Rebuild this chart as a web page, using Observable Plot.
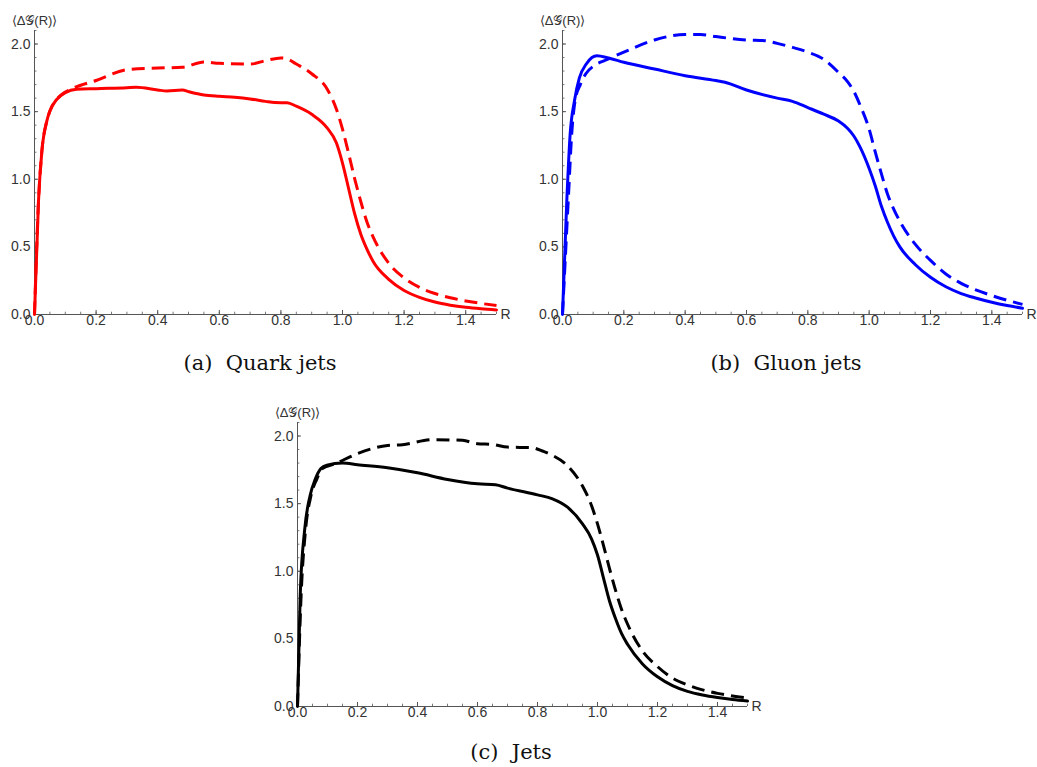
<!DOCTYPE html>
<html><head><meta charset="utf-8">
<script src="https://cdn.jsdelivr.net/npm/d3@7"></script>
<script src="https://cdn.jsdelivr.net/npm/@observablehq/plot@0.6"></script>
<style>
body{margin:0;background:#fff;}
#root{position:relative;width:1037px;height:767px;overflow:hidden;background:#fff;}
.panel{position:absolute;}
.cap{position:absolute;font-family:"DejaVu Serif","Liberation Serif",serif;font-size:21px;color:#111;white-space:pre;transform:translate(-50%,-50%);}
</style></head>
<body><div id="root"></div>
<script>
// ---- data ----
const xTicks = [0, 0.2, 0.4, 0.6, 0.8, 1.0, 1.2, 1.4];
const yTicks = [0, 0.5, 1.0, 1.5, 2.0];
const xMinor = d3.range(0, 31).map(i => i * 0.05);
const yMinor = d3.range(0, 22).map(i => i * 0.1);
const yLabel = "\u27E8\u0394\uD835\uDCA2(R)\u27E9";
const xLabel = "R";
const captions = ["(a)  Quark jets", "(b)  Gluon jets", "(c)  Jets"];

const quarkSolid = [[0,0],[0.013,0.84],[0.024,1.21],[0.04,1.43],[0.051,1.51],[0.072,1.59],[0.1,1.64],[0.137,1.665],[0.2,1.67],[0.3,1.677],[0.33,1.68],[0.4,1.66],[0.43,1.653],[0.48,1.66],[0.5,1.648],[0.55,1.623],[0.6,1.613],[0.65,1.606],[0.7,1.594],[0.75,1.576],[0.78,1.567],[0.82,1.566],[0.85,1.54],[0.9,1.48],[0.95,1.38],[0.98,1.27],[1.0,1.12],[1.02,0.93],[1.04,0.74],[1.06,0.59],[1.08,0.48],[1.1,0.39],[1.15,0.26],[1.2,0.178],[1.25,0.127],[1.3,0.092],[1.35,0.069],[1.4,0.053],[1.45,0.042],[1.5,0.034]];
const quarkDashed = [[0,0],[0.013,0.84],[0.024,1.21],[0.04,1.43],[0.051,1.51],[0.072,1.59],[0.1,1.645],[0.127,1.675],[0.2,1.73],[0.3,1.81],[0.4,1.823],[0.48,1.828],[0.55,1.867],[0.6,1.857],[0.7,1.852],[0.75,1.877],[0.8,1.897],[0.82,1.89],[0.85,1.852],[0.9,1.78],[0.95,1.667],[0.98,1.52],[1.0,1.37],[1.02,1.19],[1.04,1.0],[1.06,0.83],[1.08,0.68],[1.1,0.57],[1.15,0.38],[1.2,0.27],[1.25,0.2],[1.3,0.155],[1.35,0.124],[1.4,0.1],[1.45,0.082],[1.5,0.066]];
const gluonSolid = [[0,0],[0.014,0.84],[0.025,1.335],[0.039,1.58],[0.055,1.75],[0.077,1.85],[0.096,1.90],[0.112,1.914],[0.15,1.897],[0.2,1.865],[0.3,1.815],[0.4,1.766],[0.5,1.73],[0.53,1.717],[0.6,1.66],[0.7,1.6],[0.75,1.576],[0.8,1.53],[0.85,1.483],[0.9,1.43],[0.93,1.375],[0.95,1.32],[0.97,1.24],[1.0,1.08],[1.02,0.95],[1.04,0.8],[1.06,0.68],[1.08,0.58],[1.1,0.5],[1.15,0.37],[1.2,0.275],[1.25,0.205],[1.3,0.155],[1.35,0.12],[1.4,0.09],[1.45,0.066],[1.5,0.047]];
const gluonDashed = [[0,0],[0.02,0.9],[0.03,1.335],[0.041,1.58],[0.058,1.70],[0.076,1.78],[0.103,1.84],[0.14,1.88],[0.2,1.94],[0.3,2.03],[0.4,2.07],[0.45,2.07],[0.5,2.055],[0.6,2.03],[0.66,2.025],[0.7,2.005],[0.75,1.975],[0.8,1.94],[0.85,1.89],[0.9,1.79],[0.93,1.72],[0.95,1.65],[0.97,1.55],[1.0,1.37],[1.02,1.2],[1.04,1.04],[1.06,0.89],[1.08,0.78],[1.1,0.69],[1.15,0.52],[1.2,0.4],[1.25,0.3],[1.3,0.23],[1.35,0.18],[1.4,0.14],[1.45,0.105],[1.5,0.075]];
const jetSolid = [[0,0],[0.009,0.82],[0.024,1.31],[0.042,1.56],[0.059,1.68],[0.078,1.76],[0.098,1.785],[0.15,1.80],[0.2,1.788],[0.3,1.765],[0.4,1.728],[0.5,1.679],[0.6,1.647],[0.66,1.64],[0.7,1.615],[0.8,1.565],[0.85,1.536],[0.9,1.474],[0.95,1.35],[0.98,1.24],[1.0,1.12],[1.02,0.95],[1.04,0.78],[1.06,0.65],[1.08,0.54],[1.1,0.46],[1.15,0.315],[1.2,0.22],[1.25,0.155],[1.3,0.112],[1.35,0.085],[1.4,0.066],[1.45,0.051],[1.5,0.04]];
const jetDashed = [[0,0],[0.012,0.82],[0.027,1.31],[0.045,1.56],[0.064,1.68],[0.083,1.76],[0.12,1.79],[0.2,1.87],[0.3,1.93],[0.35,1.936],[0.45,1.973],[0.55,1.968],[0.6,1.943],[0.65,1.938],[0.7,1.918],[0.78,1.914],[0.82,1.886],[0.85,1.857],[0.9,1.78],[0.95,1.63],[0.98,1.486],[1.0,1.35],[1.02,1.19],[1.04,1.02],[1.06,0.86],[1.08,0.72],[1.1,0.61],[1.15,0.41],[1.2,0.295],[1.25,0.21],[1.3,0.16],[1.35,0.123],[1.4,0.097],[1.45,0.078],[1.5,0.064]];

// ---- layout ----
const panels = [
  {left: 0,   top: 0,   width: 516, height: 334, mL: 34, mR: 20, solid: quarkSolid, dashed: quarkDashed, color: "#ff0000", cap: captions[0], capX: 260, capY: 363},
  {left: 528, top: 0,   width: 509, height: 334, mL: 34, mR: 15, solid: gluonSolid, dashed: gluonDashed, color: "#0000ff", cap: captions[1], capX: 786, capY: 363},
  {left: 262, top: 392, width: 505, height: 334, mL: 35, mR: 20, solid: jetSolid,   dashed: jetDashed,   color: "#000000", cap: captions[2], capX: 511, capY: 752}
];

const root = document.getElementById("root");
const axisColor = "#555";

for (const p of panels) {
  const chart = Plot.plot({
    width: p.width, height: p.height,
    marginLeft: p.mL, marginRight: p.mR, marginTop: 30, marginBottom: 20,
    x: {domain: [0, 1.5]},
    y: {domain: [0, 2.1]},
    style: {fontFamily: "'Liberation Sans', Arial, sans-serif", fontSize: "14px", color: "#333", background: "transparent", overflow: "visible"},
    marks: [
      Plot.ruleY([0], {x1: 0, x2: 1.5, stroke: axisColor, strokeWidth: 1}),
      Plot.ruleX([0], {y1: 0, y2: 2.1, stroke: axisColor, strokeWidth: 1}),
      Plot.ruleX(xMinor, {y1: 0, y2: 0.017, stroke: axisColor, strokeWidth: 0.8}),
      Plot.ruleX(xTicks, {y1: 0, y2: 0.03, stroke: axisColor, strokeWidth: 1}),
      Plot.ruleY(yMinor, {x1: 0, x2: 0.008, stroke: axisColor, strokeWidth: 0.8}),
      Plot.ruleY(yTicks, {x1: 0, x2: 0.013, stroke: axisColor, strokeWidth: 1}),
      Plot.axisX({ticks: xTicks, tickSize: 0, tickPadding: 1, tickFormat: d3.format(".1f"), label: null, fontSize: 14}),
      Plot.axisY({ticks: yTicks, tickSize: 0, tickPadding: 4, tickFormat: d3.format(".1f"), label: null, fontSize: 14}),
      Plot.text([yLabel], {frameAnchor: "top-left", textAnchor: "middle", lineAnchor: "middle", dy: -10, fontSize: 13, fill: "#333"}),
      Plot.text([xLabel], {frameAnchor: "bottom-right", textAnchor: "start", lineAnchor: "middle", dx: 4, fontSize: 14, fill: "#333"}),
      Plot.line(p.solid, {stroke: p.color, strokeWidth: 3, curve: "monotone-x"}),
      Plot.line(p.dashed, {stroke: p.color, strokeWidth: 3, strokeDasharray: "13,7", strokeLinecap: "butt", curve: "monotone-x"})
    ]
  });
  chart.classList.add("panel");
  chart.style.left = p.left + "px";
  chart.style.top = p.top + "px";
  root.appendChild(chart);
  const c = document.createElement("div");
  c.className = "cap";
  c.textContent = p.cap;
  c.style.left = p.capX + "px";
  c.style.top = p.capY + "px";
  root.appendChild(c);
}
</script>
</body></html>
